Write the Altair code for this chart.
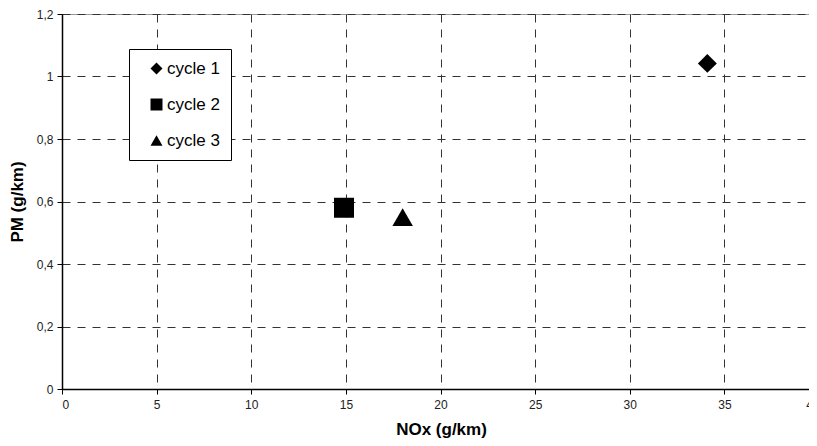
import altair as alt
import pandas as pd

cycles = ["cycle 1", "cycle 2", "cycle 3"]
nox = [34.1, 14.9, 18.0]
pm = [1.042, 0.58, 0.55]
shapes = ["diamond", "square", "triangle-up"]
sizes = [360, 400, 420]

df = pd.DataFrame({"cycle": cycles, "NOx": nox, "PM": pm, "sz": sizes})

FONT = "Liberation Sans"

points = alt.Chart(df).mark_point(filled=True, opacity=1, color="black", strokeWidth=0).encode(
    x=alt.X("NOx:Q", title="NOx (g/km)",
            scale=alt.Scale(domain=[0, 40], nice=False, zero=True, range=[0, 757]),
            axis=alt.Axis(values=[0, 5, 10, 15, 20, 25, 30, 35, 40], labelExpr="format(datum.value, 'd')",
                          titleX=379, titleY=40, titleBaseline="middle")),
    y=alt.Y("PM:Q", title="PM (g/km)",
            scale=alt.Scale(domain=[0, 1.2], nice=False),
            axis=alt.Axis(values=[0, 0.2, 0.4, 0.6, 0.8, 1.0, 1.2],
                          labelExpr="replace(format(datum.value, '~g'), '.', ',')")),
    shape=alt.Shape("cycle:N", scale=alt.Scale(domain=cycles, range=shapes),
                    legend=alt.Legend(title=None, orient="none", legendX=67, legendY=35,
                                      symbolSize=144, symbolFillColor="black",
                                      symbolStrokeWidth=0, symbolType="circle",
                                      labelFontSize=17, labelFont=FONT, labelColor="black",
                                      labelOffset=2, rowPadding=18, padding=11,
                                      symbolOffset=8,
                                      strokeColor="black", fillColor="white")),
    size=alt.Size("sz:Q", scale=None, legend=None),
)

chart = points.properties(
    width=747, height=375,
    autosize=alt.AutoSizeParams(type="none"),
    padding={"left": 54, "top": 6, "right": 0, "bottom": 49},
).configure_view(
    stroke="#999", strokeWidth=1
).configure_axis(
    grid=True, gridColor="#333", gridDash=[8, 7], gridWidth=1, gridOpacity=1,
    domainColor="black", domainWidth=1.5, tickColor="black", tickSize=5,
    labelFont=FONT, labelFontSize=12, labelColor="#222",
    titleFont=FONT, titleFontSize=17, titleFontWeight="bold", titleColor="black",
).configure_axisX(
    labelPadding=5, titlePadding=10
).configure_axisY(
    labelPadding=4, titlePadding=10
)

chart.save("out.html", embed_options={"renderer": "svg", "actions": False})
